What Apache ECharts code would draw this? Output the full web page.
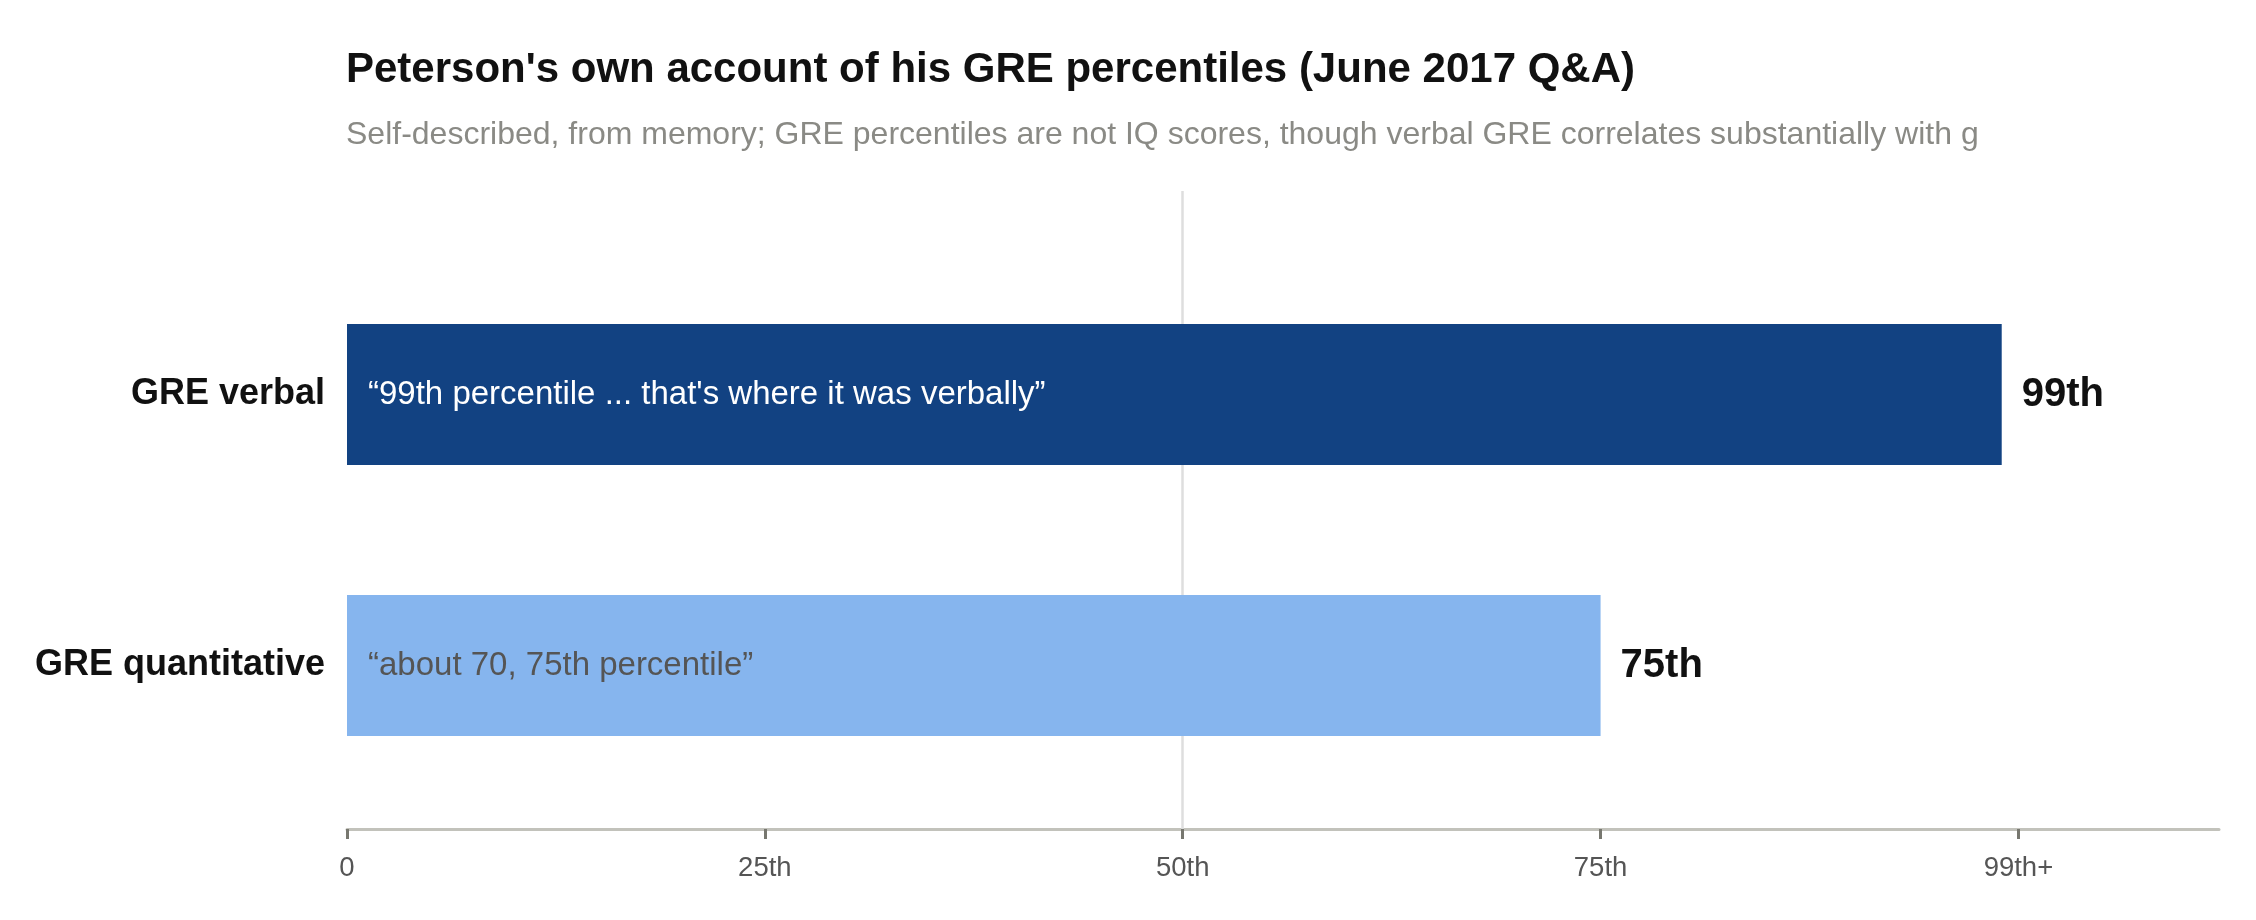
<!DOCTYPE html>
<html>
<head>
<meta charset="utf-8">
<script src="https://cdn.jsdelivr.net/npm/echarts@6/dist/echarts.min.js"></script>
<style>
html, body { margin: 0; padding: 0; background: #fff; }
#main { width: 2256px; height: 920px; }
</style>
</head>
<body>
<div id="main"></div>
<script>
// data
var categories = ['GRE verbal', 'GRE quantitative'];
var percentiles = [99, 75];
var quotes = ['\u201c99th percentile ... that\'s where it was verbally\u201d', '\u201cabout 70, 75th percentile\u201d'];
var valueLabels = ['99th', '75th'];
var tickValues = [0, 25, 50, 75, 100];
var tickLabels = ['0', '25th', '50th', '75th', '99th+'];
var refLine = 50;

var barColors = ['#124282', '#86B5EE'];
var quoteColors = ['#ffffff', '#555555'];
var FONT = '"Liberation Sans", Arial, Helvetica, sans-serif';

var dom = document.getElementById('main');
var myChart = echarts.init(dom);

var barData = [];
var labelData = [];
for (var i = 0; i < percentiles.length; i++) {
    barData.push({
        value: percentiles[i],
        itemStyle: { color: barColors[i] },
        label: { color: quoteColors[i] }
    });
    labelData.push(percentiles[i]);
}

option = {
    backgroundColor: '#fff',
    animation: false,
    title: {
        text: "Peterson's own account of his GRE percentiles (June 2017 Q&A)",
        subtext: 'Self-described, from memory; GRE percentiles are not IQ scores, though verbal GRE correlates substantially with g',
        left: 341,
        top: 44,
        itemGap: 28,
        textStyle: { fontFamily: FONT, fontSize: 42, fontWeight: 'bold', color: '#111' },
        subtextStyle: { fontFamily: FONT, fontSize: 32, color: '#8a8a85' }
    },
    grid: [
        // axis + reference line
        { left: 347, right: 37, top: 191, bottom: 91 },
        // bars
        { left: 347, right: 37, top: 259, bottom: 119 }
    ],
    xAxis: [
        {
            gridIndex: 0,
            type: 'value',
            min: 0,
            max: 112,
            interval: 25,
            axisLine: { show: true, lineStyle: { color: '#c2c2bb', width: 3 } },
            axisTick: {
                show: true,
                customValues: tickValues,
                length: 10,
                lineStyle: { color: '#77776f', width: 3 }
            },
            axisLabel: {
                customValues: tickValues,
                margin: 25,
                fontFamily: FONT,
                fontSize: 27.5,
                color: '#555',
                formatter: function (v) {
                    var k = tickValues.indexOf(v);
                    return k < 0 ? '' : tickLabels[k];
                }
            },
            splitLine: { show: false }
        },
        {
            gridIndex: 1,
            type: 'value',
            min: 0,
            max: 112,
            show: false
        }
    ],
    yAxis: [
        { gridIndex: 0, type: 'value', show: false, min: 0, max: 1 },
        {
            gridIndex: 1,
            type: 'category',
            inverse: true,
            data: categories,
            axisLine: { show: false },
            axisTick: { show: false },
            axisLabel: {
                margin: 22,
                fontFamily: FONT,
                fontSize: 36,
                fontWeight: 'bold',
                color: '#111'
            }
        }
    ],
    series: [
        {
            name: 'ref',
            type: 'line',
            xAxisIndex: 0,
            yAxisIndex: 0,
            data: [],
            z: 1,
            markLine: {
                silent: true,
                z: 1,
                symbol: 'none',
                label: { show: false },
                lineStyle: { color: '#dedede', width: 2.5, type: 'solid' },
                data: [{ xAxis: refLine }]
            }
        },
        {
            name: 'percentile',
            type: 'bar',
            xAxisIndex: 1,
            yAxisIndex: 1,
            barWidth: 141,
            z: 3,
            data: barData,
            label: {
                show: true,
                position: 'insideLeft',
                distance: 21,
                fontFamily: FONT,
                fontSize: 33,
                formatter: function (p) { return quotes[p.dataIndex]; }
            }
        },
        {
            name: 'valueLabel',
            type: 'bar',
            xAxisIndex: 1,
            yAxisIndex: 1,
            barWidth: 141,
            barGap: '-100%',
            z: 2,
            silent: true,
            itemStyle: { color: 'rgba(0,0,0,0)' },
            data: labelData,
            label: {
                show: true,
                position: 'right',
                distance: 20,
                fontFamily: FONT,
                fontSize: 40,
                fontWeight: 'bold',
                color: '#111',
                formatter: function (p) { return valueLabels[p.dataIndex]; }
            }
        }
    ]
};

if (option && typeof option === 'object') {
    myChart.setOption(option, true);
}
</script>
</body>
</html>
